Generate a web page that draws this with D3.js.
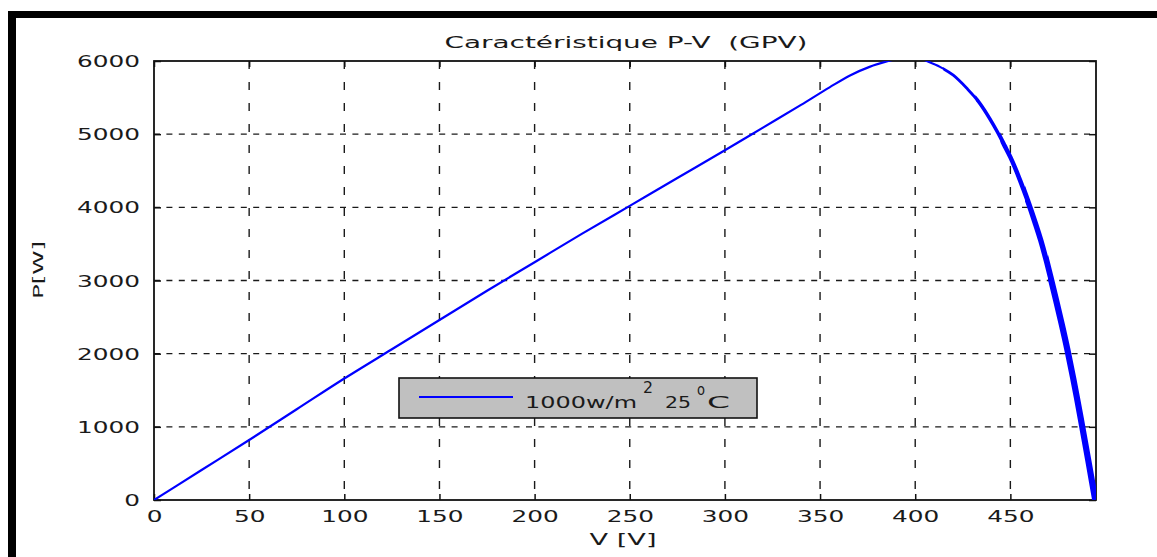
<!DOCTYPE html>
<html>
<head>
<meta charset="utf-8">
<script src="https://cdn.jsdelivr.net/npm/d3@7"></script>
<style>
  html, body { margin: 0; padding: 0; background: #fff; }
  svg { display: block; }
  text { font-family: "DejaVu Sans", sans-serif; fill: #1a1a1a; }
</style>
</head>
<body>
<svg id="chart" width="1157" height="557"></svg>
<script>
// P-V characteristic of the PV generator (1000 W/m², 25 °C)
const voltage = [0, 25, 50, 75, 100, 125, 150, 175, 200, 225, 250, 275, 300, 320, 340, 355, 366, 376, 386, 392, 397, 402, 406, 413, 420, 427, 434, 439, 443, 447, 450, 455, 459, 463, 466, 469, 471, 474, 477, 480, 483, 485, 487, 489, 491, 493, 494.6];
const power   = [0, 410, 820, 1240, 1660, 2060, 2460, 2860, 3250, 3640, 4020, 4400, 4780, 5090, 5400, 5640, 5806, 5920, 6000, 6040, 6055, 6040, 6000, 5920, 5806, 5630, 5420, 5220, 5040, 4840, 4686, 4376, 4096, 3792, 3546, 3261, 3055, 2734, 2401, 2050, 1666, 1394, 1112, 824, 532, 238, 0];
const xTicks = [0, 50, 100, 150, 200, 250, 300, 350, 400, 450];
const yTicks = [0, 1000, 2000, 3000, 4000, 5000, 6000];
const titleText = "Caractéristique P-V\u00a0\u00a0(GPV)";
const xLabel = "V [V]";
const yLabel = "P[W]";
const legendLabel = ["1000w/m", "2", "25", "o", "C"];
// voltage bands in which the trace is drawn heavier (steep descent)
const bandEdges = [0, 415, 432, 445, 458, 470, 495];
const bandWidths = [2.2, 2.8, 3.6, 4.5, 5.4, 6.2];

const svg = d3.select("#chart");
const plot = { left: 154, top: 61, right: 1096, bottom: 500 };

const x = d3.scaleLinear().domain([0, 495]).range([plot.left, plot.right]);
const y = d3.scaleLinear().domain([0, 6000]).range([plot.bottom, plot.top]);

// stretch a text node horizontally to a given width, keeping its anchor
function widen(node, target, anchor) {
  const w = node.getComputedTextLength();
  const len = target != null ? target : w * 1.65;
  const sel = d3.select(node);
  const x0 = +sel.attr("x") || 0;
  sel.attr("textLength", len).attr("lengthAdjust", "spacingAndGlyphs")
     .attr("text-anchor", "start")
     .attr("x", anchor === "end" ? x0 - len : anchor === "middle" ? x0 - len / 2 : x0);
}

// outer black frame (top and left edges)
svg.append("rect").attr("x", 8).attr("y", 11).attr("width", 1149).attr("height", 7).attr("fill", "#000");
svg.append("rect").attr("x", 8).attr("y", 11).attr("width", 8).attr("height", 546).attr("fill", "#000");

// grid
const grid = svg.append("g");
grid.selectAll("line.vx").data(xTicks.filter(d => d > 0)).join("line")
  .attr("x1", d => x(d)).attr("x2", d => x(d))
  .attr("y1", plot.top).attr("y2", plot.bottom)
  .attr("stroke", "#1a1a1a").attr("stroke-width", 1.4).attr("stroke-dasharray", "8,13");
grid.selectAll("line.hy").data(yTicks.filter(d => d > 0 && d < 6000)).join("line")
  .attr("x1", plot.left).attr("x2", plot.right)
  .attr("y1", d => y(d)).attr("y2", d => y(d))
  .attr("stroke", "#1a1a1a").attr("stroke-width", 1.4).attr("stroke-dasharray", "6,6.4");

// axes with inward ticks
const fmt = d3.format("d");
const xAxisB = svg.append("g").attr("transform", `translate(0,${plot.bottom})`)
  .call(d3.axisBottom(x).tickValues(xTicks).tickFormat(fmt).tickSizeInner(-6).tickSizeOuter(0).tickPadding(16));
const xAxisT = svg.append("g").attr("transform", `translate(0,${plot.top})`)
  .call(d3.axisTop(x).tickValues(xTicks).tickSizeInner(-6).tickSizeOuter(0).tickFormat(""));
const yAxisL = svg.append("g").attr("transform", `translate(${plot.left},0)`)
  .call(d3.axisLeft(y).tickValues(yTicks).tickFormat(fmt).tickSizeInner(-7).tickSizeOuter(0).tickPadding(21));
const yAxisR = svg.append("g").attr("transform", `translate(${plot.right},0)`)
  .call(d3.axisRight(y).tickValues(yTicks).tickSizeInner(-7).tickSizeOuter(0).tickFormat(""));

[xAxisB, xAxisT, yAxisL, yAxisR].forEach(g => {
  g.select(".domain").remove();
  g.selectAll(".tick line").attr("stroke", "#111").attr("stroke-width", 1.5);
});
xAxisB.selectAll(".tick text")
  .attr("font-family", "DejaVu Sans").attr("font-size", 15).attr("fill", "#1a1a1a")
  .attr("dy", null).attr("y", 21.5)
  .each(function () { widen(this, null, "middle"); });
yAxisL.selectAll(".tick text")
  .attr("font-family", "DejaVu Sans").attr("font-size", 15).attr("fill", "#1a1a1a")
  .attr("dy", null).attr("y", 5.5).attr("x", -14)
  .each(function () { widen(this, null, "end"); });

// plot frame
svg.append("rect")
  .attr("x", plot.left).attr("y", plot.top)
  .attr("width", plot.right - plot.left).attr("height", plot.bottom - plot.top)
  .attr("fill", "none").attr("stroke", "#111").attr("stroke-width", 1.8);

// curve: one smooth path, repeated per voltage band with its own weight,
// each copy clipped to the axes box and to its band
const defs = svg.append("defs");
const line = d3.line().x((d, i) => x(voltage[i])).y(d => y(d)).curve(d3.curveMonotoneX);
const bands = d3.pairs(bandEdges).map((b, i) => ({ v0: b[0], v1: b[1], w: bandWidths[i], id: "band" + i }));
defs.selectAll("clipPath").data(bands).join("clipPath").attr("id", d => d.id)
  .append("rect")
  .attr("x", d => x(d.v0) - (d.v0 === 0 ? 0 : 0.5)).attr("y", plot.top)
  .attr("width", d => x(d.v1) - x(d.v0) + (d.v0 === 0 ? 0 : 0.5) + (d.v1 === 495 ? 0 : 0.5))
  .attr("height", plot.bottom - plot.top);
svg.append("g").selectAll("path").data(bands).join("path")
  .attr("clip-path", d => `url(#${d.id})`)
  .attr("d", line(power))
  .attr("fill", "none").attr("stroke", "#0000ff")
  .attr("stroke-width", d => d.w).attr("stroke-linejoin", "round");

// title and axis labels
svg.append("text").attr("x", 626).attr("y", 47.5).attr("font-size", 15)
  .text(titleText).each(function () { widen(this, 363, "middle"); });
svg.append("text").attr("x", 623).attr("y", 544.5).attr("font-size", 15)
  .text(xLabel).each(function () { widen(this, 67, "middle"); });
svg.append("text").attr("font-size", 14)
  .attr("transform", "translate(43,270) rotate(-90)")
  .text(yLabel).each(function () { widen(this, 58, "middle"); });

// legend
const lg = svg.append("g");
lg.append("rect").attr("x", 399).attr("y", 378).attr("width", 358).attr("height", 40)
  .attr("fill", "#c0c0c0").attr("stroke", "#111").attr("stroke-width", 1.6);
lg.append("line").attr("x1", 419).attr("x2", 513).attr("y1", 397).attr("y2", 397)
  .attr("stroke", "#0000ff").attr("stroke-width", 2);
const legendParts = [
  { t: legendLabel[0], x: 525, y: 408, w: 112 },
  { t: legendLabel[1], x: 643, y: 393, w: 10 },
  { t: legendLabel[2], x: 665, y: 408, w: 26 },
  { t: legendLabel[3], x: 697, y: 395, w: 8 },
  { t: legendLabel[4], x: 707, y: 408, w: 23 }
];
lg.selectAll("text").data(legendParts).join("text")
  .attr("x", d => d.x).attr("y", d => d.y).attr("font-size", 15)
  .text(d => d.t)
  .each(function (d) { widen(this, d.w, "start"); });
</script>
</body>
</html>
